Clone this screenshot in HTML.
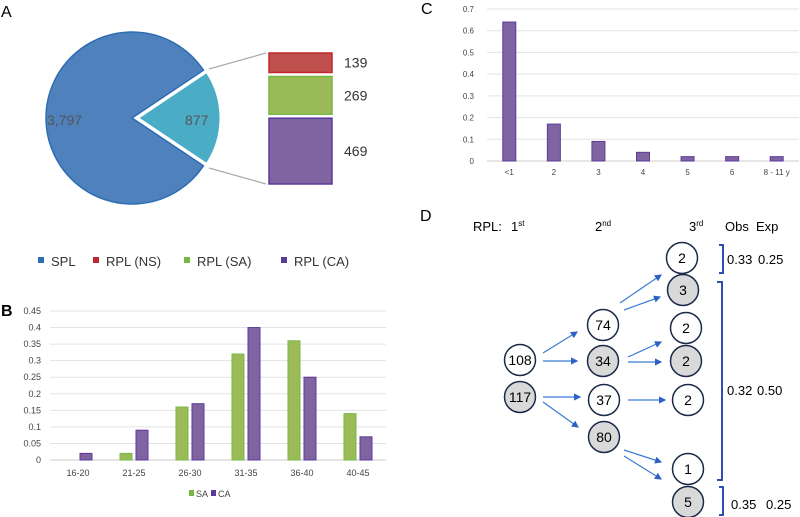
<!DOCTYPE html>
<html><head><meta charset="utf-8"><style>
html,body{margin:0;padding:0;background:#fff;}
svg{display:block;font-family:"Liberation Sans",sans-serif;}
</style></head><body>
<svg id="fig" width="800" height="517" viewBox="0 0 800 517">
<!-- Panel A -->
<g>
<text x="1" y="17" font-size="16">A</text>
<path id="spl" d="" fill="#4f81bd" stroke="#2e6db3" stroke-width="1.5"/>
<path id="rpl" d="" fill="#4bacc6" stroke="#fff" stroke-width="3"/>
<text x="47" y="125" font-size="14" fill="#555">3,797</text>
<text x="185" y="125" font-size="14" fill="#555">877</text>
<line x1="209" y1="69" x2="266" y2="53" stroke="#aaa" stroke-width="1.2"/>
<line x1="209" y1="168" x2="266" y2="184" stroke="#aaa" stroke-width="1.2"/>
<g id="stack"></g>
<g font-size="13" fill="#333">
<rect x="38" y="257" width="6" height="6" fill="#2e6db3"/><text x="51" y="266">SPL</text>
<rect x="93" y="257" width="6" height="6" fill="#c0272d"/><text x="106" y="266">RPL (NS)</text>
<rect x="184" y="257" width="6" height="6" fill="#77b843"/><text x="197" y="266">RPL (SA)</text>
<rect x="281" y="257" width="6" height="6" fill="#5b3a9a"/><text x="294" y="266">RPL (CA)</text>
</g>
</g>
<!-- Panel B -->
<g>
<text x="1" y="316" font-size="16" font-weight="bold">B</text>
<g id="bAxis"></g>
<g id="bBars"></g>
<rect x="189" y="490" width="5" height="6" fill="#77b843"/>
<text x="196" y="497" font-size="9" fill="#444">SA</text>
<rect x="211" y="490" width="5" height="6" fill="#5b3a9a"/>
<text x="218" y="497" font-size="9" fill="#444">CA</text>
</g>
<!-- Panel C -->
<g>
<text x="421" y="14" font-size="16">C</text>
<g id="cAxis"></g>
<g id="cBars"></g>
</g>
<!-- Panel D -->
<g font-size="13">
<text x="420" y="221" font-size="16">D</text>
<text x="473" y="231">RPL:</text>
<text x="511" y="231">1<tspan font-size="8" dy="-5">st</tspan></text>
<text x="595" y="231">2<tspan font-size="8" dy="-5">nd</tspan></text>
<text x="689" y="231">3<tspan font-size="8" dy="-5">rd</tspan></text>
<text x="725" y="231">Obs</text>
<text x="756" y="231">Exp</text>
<defs><marker id="ah" markerWidth="6" markerHeight="6" refX="5" refY="3" orient="auto"><path d="M0,0 L6,3 L0,6 z" fill="#2d62c4"/></marker></defs>
<g id="dArrows"></g>
<g id="dNodes"></g>
<path d="M719,245 h4 v28 h-4" fill="none" stroke="#2d4fb0" stroke-width="2"/>
<path d="M717,282 h5 v198 h-5" fill="none" stroke="#2d4fb0" stroke-width="2"/>
<path d="M719,487 h4 v28 h-4" fill="none" stroke="#2d4fb0" stroke-width="2"/>
<text x="727" y="264">0.33</text>
<text x="758" y="264">0.25</text>
<text x="727" y="395">0.32</text>
<text x="757" y="395">0.50</text>
<text x="731" y="509">0.35</text>
<text x="766" y="509">0.25</text>
</g>
</svg>
<script>
const NS="http://www.w3.org/2000/svg";
function mk(tag,attrs,parent,txt){const e=document.createElementNS(NS,tag);for(const k in attrs)e.setAttribute(k,attrs[k]);if(txt!==undefined)e.textContent=txt;parent.appendChild(e);return e;}

// Panel A data
const pieLabels=["SPL","RPL"];
const pieValues=[3797,877];
const rplLabels=["139","269","469"];
const rplValues=[139,269,469];
const rplColors=["#c0504d","#9bbb59","#8064a2"];
const rplStroke=["#c0272d","#77b843","#5b3a9a"];
(function(){
  const cx=132,cy=118,r=86;
  const tot=pieValues[0]+pieValues[1];
  const half=Math.PI*pieValues[1]/tot;
  const a1=-half,a2=half;
  const p=(a,rr,ox)=>[(ox||cx)+rr*Math.cos(a),cy+rr*Math.sin(a)];
  const s1=p(a2,r),s2=p(a1,r);
  document.getElementById('spl').setAttribute('d',`M${cx},${cy} L${s1[0]},${s1[1]} A${r},${r} 0 1 1 ${s2[0]},${s2[1]} Z`);
  const ox=cx+5,q1=p(a1,r-2,ox),q2=p(a2,r-2,ox);
  document.getElementById('rpl').setAttribute('d',`M${ox},${cy} L${q1[0]},${q1[1]} A${r-2},${r-2} 0 0 1 ${q2[0]},${q2[1]} Z`);
  const g=document.getElementById('stack');
  const top=53,bot=184,gap=4;
  const sum=rplValues.reduce((a,b)=>a+b,0);
  const avail=bot-top-gap*(rplValues.length-1);
  let y=top;
  rplValues.forEach((v,i)=>{
    const h=avail*v/sum;
    const rc=mk('rect',{x:269,y:y,width:63,height:h,fill:rplColors[i],stroke:rplStroke[i],'stroke-width':1.5},g);
    
    
    const t=mk('text',{x:344,y:y+h/2+5,'font-size':14,fill:'#333'},g,rplLabels[i]);
    
    
    y+=h+gap;
  });
})();

// Panel B data
const bCategories=["16-20","21-25","26-30","31-35","36-40","40-45"];
const bSA=[0,0.02,0.16,0.32,0.36,0.14];
const bCA=[0.02,0.09,0.17,0.40,0.25,0.07];
const bTicks=["0","0.05","0.1","0.15","0.2","0.25","0.3","0.35","0.4","0.45"];
(function(){
  const y0=460,y1=311,vmax=0.45,xl=50,xr=386;
  const Y=v=>y0-(v/vmax)*(y0-y1);
  const step=(xr-xl)/bCategories.length;
  const X=i=>xl+step*(i+0.5);
  const ax=document.getElementById('bAxis'),bg=document.getElementById('bBars');
  bTicks.forEach(t=>{const v=parseFloat(t);
    const l=mk('line',{x1:xl,x2:xr,y1:Y(v),y2:Y(v),stroke:v===0?'#ccc':'#e3e3e3','stroke-width':1},ax);
    
    
    const tx=mk('text',{x:41,y:Y(v)+3,'font-size':9,fill:'#444','text-anchor':'end'},ax,t);
    
    
  });
  bCategories.forEach((c,i)=>{
    const tx=mk('text',{x:X(i),y:476,'font-size':9,fill:'#444','text-anchor':'middle'},ax,c);
    
    
    [[bSA[i],'#9bbb59','#77b843',-14],[bCA[i],'#8064a2','#5b3a9a',2]].forEach(([v,f,s,off],k)=>{
      if(v<=0)return;
      const r=mk('rect',{x:X(i)+off,y:Y(v),width:12,height:Y(0)-Y(v),fill:f,stroke:s,'stroke-width':1},bg);
      
      
    });
  });
})();

// Panel C data
const cCategories=["<1","2","3","4","5","6","8 - 11 y"];
const cValues=[0.64,0.17,0.09,0.04,0.02,0.02,0.02];
const cTicks=["0","0.1","0.2","0.3","0.4","0.5","0.6","0.7"];
(function(){
  const y0=161,y1=9,vmax=0.7,xl=487,xr=799;
  const Y=v=>y0-(v/vmax)*(y0-y1);
  const step=(xr-xl)/cCategories.length;
  const X=i=>xl+step*(i+0.5);
  const ax=document.getElementById('cAxis'),bg=document.getElementById('cBars');
  cTicks.forEach(t=>{const v=parseFloat(t);
    const l=mk('line',{x1:xl,x2:xr,y1:Y(v),y2:Y(v),stroke:v===0?'#ccc':'#e3e3e3','stroke-width':1},ax);
    
    
    const tx=mk('text',{x:474,y:Y(v)+3,'font-size':8,fill:'#444','text-anchor':'end'},ax,t);
    
    
  });
  cCategories.forEach((c,i)=>{
    const tx=mk('text',{x:X(i),y:175,'font-size':8,fill:'#444','text-anchor':'middle'},ax,c);
    
    
    const v=cValues[i];
    const r=mk('rect',{x:X(i)-6.5,y:Y(v),width:13,height:Y(0)-Y(v),fill:'#8064a2',stroke:'#5b3a9a','stroke-width':1},bg);
    
    
  });
})();

// Panel D tree
const nodeLabels=["108","117","74","34","37","80","2","3","2","2","2","1","5"];
const nodeGray=[0,1,0,1,0,1,0,1,0,1,0,0,1];
(function(){
  const pos=[[520,360],[520,397],[603,325],[603,361],[604,400],[604,437],[682,258],[683,290],[686,328],[686,361],[688,400],[688,469],[688,502]];
  const arrows=[[543,353,577,332],[543,361,577,361],[543,397,580,397],[543,402,578,427],[620,303,661,275],[624,310,660,297],[628,357,661,342],[628,362,661,362],[628,400,665,400],[624,450,661,462],[624,456,661,479]];
  const ag=document.getElementById('dArrows'),ng=document.getElementById('dNodes');
  arrows.forEach(a=>{
    const l=mk('line',{x1:a[0],y1:a[1],x2:a[2],y2:a[3],stroke:'#3a7bd5','stroke-width':1.2,'marker-end':'url(#ah)'},ag);
    
    
  });
  nodeLabels.forEach((t,i)=>{
    const [x,y]=pos[i];
    const c=mk('circle',{cx:x,cy:y,r:15.5,fill:nodeGray[i]?'#d9d9d9':'#fff',stroke:'#1b2a4a','stroke-width':1.5},ng);
    
    
    const tx=mk('text',{x:x,y:y+5,'font-size':14,'text-anchor':'middle',fill:'#000'},ng,t);
    
    
  });
})();
</script>
</body></html>
